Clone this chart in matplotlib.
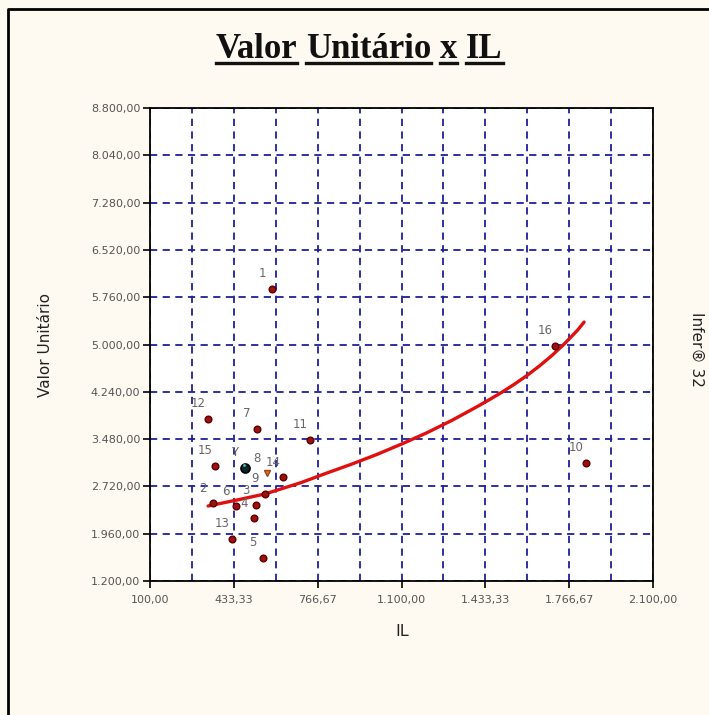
import matplotlib
matplotlib.use('Agg')
import matplotlib.pyplot as plt
from matplotlib.lines import Line2D
from matplotlib.ticker import FuncFormatter

# sample points (IL, Valor Unitário)
labels = ['1', '2', '3', '4', '5', '6', '7', '8', '9', '10', '11', '12', '13', '14', '15', '16']
il = [585, 350, 521, 514, 549, 442, 525, 565, 557, 1834, 736, 331, 426, 629, 358, 1710]
valor = [5892, 2453, 2421, 2212, 1570, 2405, 3643, 2935, 2598, 3096, 3466, 3803, 1875, 2871, 3048, 4976]

# the estimated point "Y"
y_il = 478
y_valor = 3016

# fitted curve
curve_il = [331, 450, 557, 700, 800, 900, 1000, 1100, 1200, 1300, 1400, 1450, 1504,
            1550, 1600, 1650, 1700, 1750, 1800, 1826]
curve_valor = [2405, 2505, 2598, 2780, 2930, 3075, 3230, 3400, 3580, 3780, 4000, 4115, 4245,
               4365, 4505, 4660, 4830, 5020, 5230, 5360]

x_ticks = [100, 433.33, 766.67, 1100, 1433.33, 1766.67, 2100]
x_minor = [266.67, 600, 933.33, 1266.67, 1600, 1933.33]
y_ticks = [1200, 1960, 2720, 3480, 4240, 5000, 5760, 6520, 7280, 8040, 8800]

W, H = 709, 715
bg = '#fffaf1'
grid_col = '#1f1f9a'


def br(v, pos=None):
    s = f"{v:,.2f}"
    return s.replace(',', '#').replace('.', ',').replace('#', '.')


fig = plt.figure(figsize=(W / 100, H / 100), dpi=100, facecolor=bg)
ax = fig.add_axes([150 / W, 1 - 581 / H, 503 / W, 473 / H])
ax.set_facecolor('white')

ax.set_xlim(100, 2100)
ax.set_ylim(1200, 8800)
ax.set_xticks(x_ticks)
ax.set_xticks(x_minor, minor=True)
ax.set_yticks(y_ticks)
ax.xaxis.set_major_formatter(FuncFormatter(br))
ax.yaxis.set_major_formatter(FuncFormatter(br))
ax.tick_params(which='major', direction='out', length=5, width=1.2, color='black',
               labelsize=8, labelcolor='#555555', pad=5)
ax.tick_params(axis='y', pad=2)
ax.tick_params(which='minor', length=0)
for lab in ax.get_xticklabels() + ax.get_yticklabels():
    lab.set_fontfamily('DejaVu Sans')

ax.grid(axis='x', which='both', color=grid_col, linestyle=(0, (4, 3)), linewidth=1.3)
ax.grid(axis='y', which='major', color=grid_col, linestyle=(0, (4, 3)), linewidth=1.3)
ax.set_axisbelow(True)
for sp in ax.spines.values():
    sp.set_color('black')
    sp.set_linewidth(1.3)

# curve
ax.plot(curve_il, curve_valor, color='#e01010', linewidth=2.4, zorder=3,
        solid_joinstyle='round', solid_capstyle='round')

# points
for i, lab in enumerate(labels):
    if lab == '8':
        ax.plot(il[i], valor[i], marker='v', ms=5, color='#d8782a', mec='#a04010', zorder=4)
    else:
        ax.plot(il[i], valor[i], marker='o', ms=4.8, color='#a01010', mec='#5a0000', mew=1, zorder=4)
    ax.annotate(lab, (il[i], valor[i]), xytext=(-10, 15), textcoords='offset pixels',
                ha='center', va='center', fontsize=8.5, color='#666666', zorder=5)

ax.plot(y_il, y_valor, marker='o', ms=6.5, color='#0a2424', mec='black', mew=1.2, zorder=5)
ax.plot(y_il - 5, y_valor + 40, marker='o', ms=2, color='#40c8c8', mew=0, zorder=6)
ax.annotate('Y', (y_il, y_valor), xytext=(-10, 15), textcoords='offset pixels',
            ha='center', va='center', fontsize=8.5, color='#666666')

# axis titles
fig.text(45 / W, 1 - 345 / H, 'Valor Unitário', rotation=90, ha='center', va='center',
         fontsize=11, color='#222222')
fig.text(402 / W, 1 - 632 / H, 'IL', ha='center', va='center', fontsize=11.5, color='#222222')
fig.text(697 / W, 1 - 312 / H, 'Infer® 32', rotation=270, ha='center', va='top',
         fontsize=11, color='#222222')

# title, each word underlined on its own
words = ['Valor', 'Unitário', 'x', 'IL']
tsize = 25
base_y = 1 - 58 / H
renderer = fig.canvas.get_renderer()
probe = fig.text(0, 0, 'a b', fontsize=tsize, fontweight='bold', family='Liberation Serif')
wab = probe.get_window_extent(renderer).width
probe.set_text('ab')
space_w = wab - probe.get_window_extent(renderer).width
probe.remove()
widths = []
for w in words:
    t = fig.text(0, 0, w, fontsize=tsize, fontweight='bold', family='Liberation Serif')
    widths.append(t.get_window_extent(renderer).width)
    t.remove()
total = sum(widths) + space_w * (len(words) - 1)
x0 = 359 - total / 2
for w, wd in zip(words, widths):
    fig.text(x0 / W, base_y, w, fontsize=tsize, fontweight='bold', family='Liberation Serif',
             ha='left', va='baseline', color='#111111')
    fig.add_artist(Line2D([x0 / W, (x0 + wd) / W], [base_y - 5 / H, base_y - 5 / H],
                          color='#111111', linewidth=2.4, transform=fig.transFigure))
    x0 += wd + space_w

# outer frame (left and top edges)
fig.add_artist(Line2D([8 / W, 8 / W, 1.0], [0.0, 1 - 9 / H, 1 - 9 / H],
                      color='black', linewidth=2, transform=fig.transFigure))

fig.savefig('out.png', dpi=100, facecolor=bg)
